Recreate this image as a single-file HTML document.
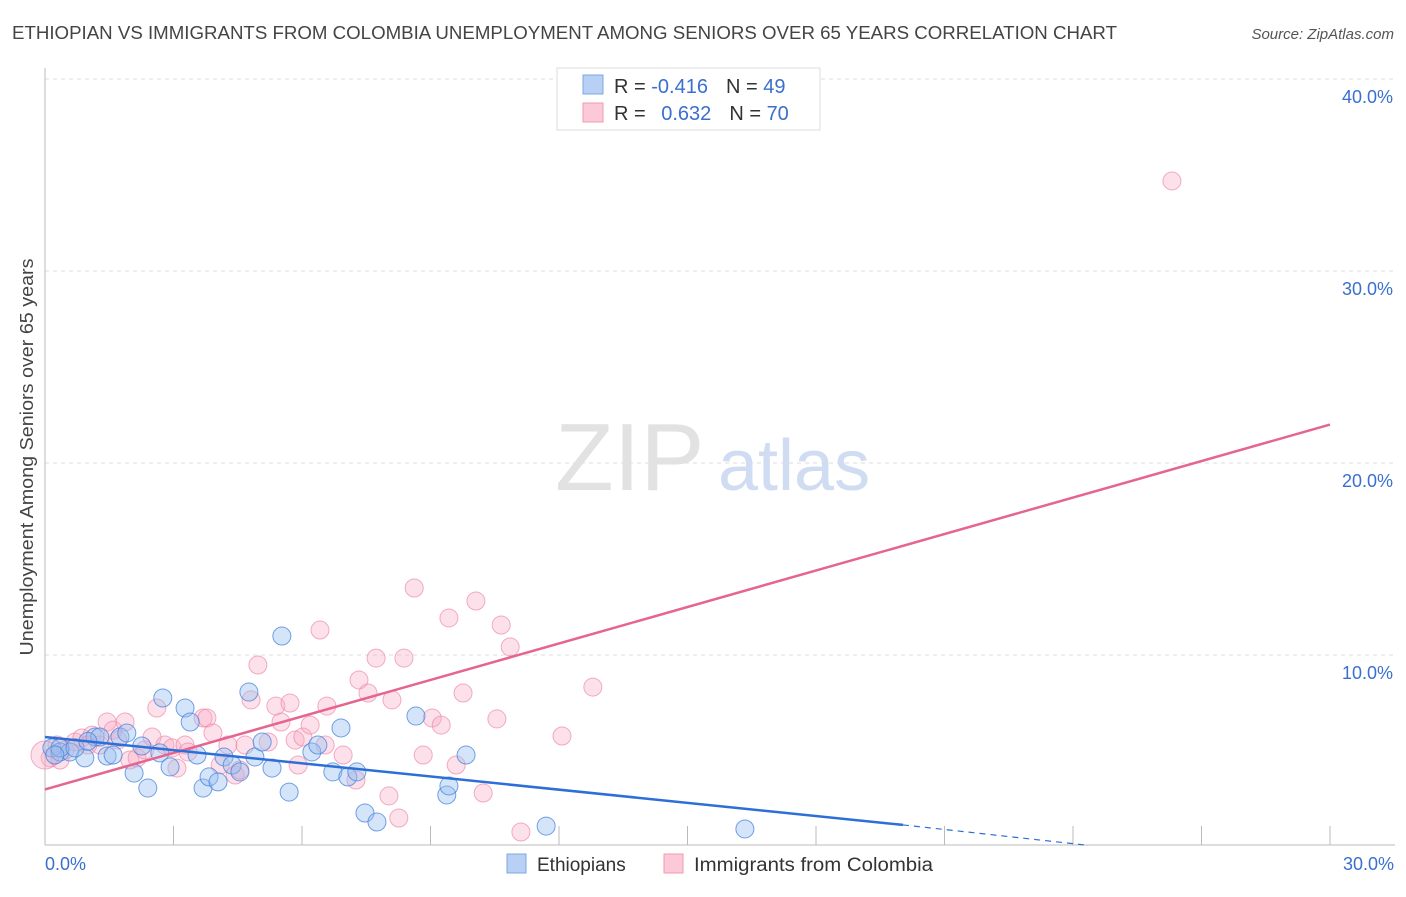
<!DOCTYPE html>
<html><head><meta charset="utf-8"><style>
body{margin:0;background:#fff;font-family:"Liberation Sans",sans-serif}
svg text{font-family:"Liberation Sans",sans-serif}
</style></head><body>
<svg id="chart" width="1406" height="892">
<text x="12" y="39" font-size="18" fill="#444" textLength="1105" lengthAdjust="spacingAndGlyphs">ETHIOPIAN VS IMMIGRANTS FROM COLOMBIA UNEMPLOYMENT AMONG SENIORS OVER 65 YEARS CORRELATION CHART</text>
<text x="1394" y="39" font-size="15" fill="#555" font-style="italic" text-anchor="end">Source: ZipAtlas.com</text>
<g id="grid"></g>
<g><text x="555" y="490" font-size="96" font-family="Liberation Serif" fill="#e2e2e2">ZIP</text><text x="718" y="490" font-size="72" fill="#cfdcf2">atlas</text></g>
<g id="marks"></g>
<text x="0" y="0" transform="translate(33,457) rotate(-90)" font-size="18" fill="#444" text-anchor="middle" textLength="397" lengthAdjust="spacingAndGlyphs">Unemployment Among Seniors over 65 years</text>
<g>
<rect x="557" y="68" width="263" height="62" fill="#fff" stroke="#ddd"/>
<rect x="583" y="75" width="20" height="19" fill="#b8d0f3" stroke="#7ea6e3"/>
<rect x="583" y="103" width="20" height="19" fill="#fbc9d7" stroke="#f09ab3"/>
<text x="614" y="93" font-size="20" fill="#333">R = <tspan fill="#3a6fd0">-0.416</tspan><tspan dx="18">N = </tspan><tspan fill="#3a6fd0">49</tspan></text>
<text x="614" y="120" font-size="20" fill="#333">R = <tspan fill="#3a6fd0" dx="10">0.632</tspan><tspan dx="18">N = </tspan><tspan fill="#3a6fd0">70</tspan></text>
</g>
<g>
<rect x="507" y="854" width="19" height="19" fill="#b8d0f3" stroke="#7ea6e3"/>
<text x="537" y="871" font-size="19" fill="#333">Ethiopians</text>
<rect x="664" y="854" width="19" height="19" fill="#fbc9d7" stroke="#f09ab3"/>
<text x="694" y="871" font-size="19" fill="#333" textLength="239" lengthAdjust="spacingAndGlyphs">Immigrants from Colombia</text>
</g>
</svg>
<script>
const yTicks=[10,20,30,40];
const yTickLabels=["10.0%","20.0%","30.0%","40.0%"];
const xTicks=[0,3,6,9,12,15,18,21,24,27,30];
const blueX=[0.16,0.35,0.58,0.93,1.17,1.28,1.45,1.59,1.75,1.91,2.08,2.26,2.40,2.68,2.75,2.92,3.27,3.39,3.55,3.69,3.83,4.04,4.18,4.37,4.55,4.76,4.90,5.07,5.30,5.53,5.70,6.23,6.37,6.72,6.91,7.07,7.28,7.47,7.75,8.66,9.38,9.43,9.83,11.70,16.34,0.35,0.70,0.23,1.0];
const blueY=[5.16,4.95,4.95,4.64,5.73,5.73,4.74,4.79,5.73,5.94,3.85,5.26,3.07,4.90,7.76,4.17,7.24,6.51,4.79,3.07,3.65,3.39,4.69,4.27,3.91,8.07,4.69,5.47,4.11,10.99,2.86,4.95,5.31,3.91,6.20,3.65,3.91,1.77,1.30,6.82,2.71,3.18,4.79,1.09,0.94,5.16,5.16,4.79,5.5];
const pinkX=[0.12,0.28,0.47,0.70,0.86,1.10,1.28,1.45,1.59,1.70,1.87,1.98,2.15,2.33,2.50,2.61,2.80,2.97,3.08,3.27,3.34,3.69,3.78,3.92,4.09,4.27,4.44,4.55,4.67,4.81,4.97,5.21,5.39,5.51,5.72,5.84,5.91,6.02,6.19,6.42,6.54,6.58,6.96,7.26,7.33,7.54,7.73,8.03,8.10,8.26,8.38,8.62,8.83,9.04,9.25,9.43,9.60,9.76,10.06,10.23,10.55,10.65,10.86,11.11,12.07,12.79,26.31,0.0,0.35,1.00];
const pinkY=[4.64,5.31,5.05,5.47,5.68,5.83,5.31,6.51,6.09,5.57,6.51,4.53,4.64,5.05,5.73,7.24,5.31,5.16,4.11,5.31,4.95,6.72,6.72,5.94,4.27,5.31,3.75,4.01,5.31,7.66,9.48,5.47,7.34,6.51,7.50,5.57,4.27,5.73,6.35,11.30,5.31,7.34,4.79,3.49,8.70,8.02,9.84,2.66,7.66,1.51,9.84,13.49,4.79,6.72,6.35,11.93,4.27,8.02,12.81,2.81,6.67,11.56,10.42,0.78,5.78,8.33,34.69,4.79,4.53,5.31];
const blueTrend=[[0,5.73],[20.03,1.15]], blueDash=[[20.03,1.15],[24.3,0.1]];
const pinkTrend=[[0,3.0],[30,22.0]];
const NS="http://www.w3.org/2000/svg";
const X=v=>45+v/30*1285, Y=v=>847-v*19.2;
function mk(t,a,p){const e=document.createElementNS(NS,t);for(const k in a)e.setAttribute(k,a[k]);p.appendChild(e);return e;}
const grid=document.getElementById('grid'), marks=document.getElementById('marks');
yTicks.forEach((t,i)=>{
 const l=mk('line',{x1:45,x2:1395,y1:Y(t),y2:Y(t),stroke:'#ddd','stroke-dasharray':'4,4'},grid);
 
 
 const tx=mk('text',{x:1393,y:Y(t)+24,'font-size':18,fill:'#3a6fd0','text-anchor':'end'},grid);
 tx.textContent=yTickLabels[i];
 
 
});
const ax=mk('line',{x1:45,x2:45,y1:68,y2:845,stroke:'#bbb'},grid);


const bx=mk('line',{x1:45,x2:1395,y1:845,y2:845,stroke:'#bbb'},grid);


xTicks.forEach(t=>{
 const l=mk('line',{x1:X(t),x2:X(t),y1:826,y2:845,stroke:'#bbb'},grid);
 
 
});
[[0,'0.0%','start',45],[30,'30.0%','end',1394]].forEach(d=>{
 const tx=mk('text',{x:d[3],y:870,'font-size':18,fill:'#3a6fd0','text-anchor':d[2]},grid);
 tx.textContent=d[1];
 
 
});
pinkX.forEach((x,i)=>{
 const c=mk('circle',{cx:X(x),cy:Y(pinkY[i]),r:i==67?14:9,fill:'rgba(248,170,195,0.35)',stroke:'rgba(235,130,165,0.65)','stroke-width':1},marks);
 
 
});
blueX.forEach((x,i)=>{
 const c=mk('circle',{cx:X(x),cy:Y(blueY[i]),r:9,fill:'rgba(150,190,240,0.4)',stroke:'rgba(70,130,220,0.75)','stroke-width':1},marks);
 
 
});
const pl=mk('line',{x1:X(pinkTrend[0][0]),y1:Y(pinkTrend[0][1]),x2:X(pinkTrend[1][0]),y2:Y(pinkTrend[1][1]),stroke:'#e5658f','stroke-width':2.5},marks);


const bl=mk('line',{x1:X(blueTrend[0][0]),y1:Y(blueTrend[0][1]),x2:X(blueTrend[1][0]),y2:Y(blueTrend[1][1]),stroke:'#2d6fd6','stroke-width':2.5},marks);


const bd=mk('line',{x1:X(blueDash[0][0]),y1:Y(blueDash[0][1]),x2:X(blueDash[1][0]),y2:Y(blueDash[1][1]),stroke:'#2d6fd6','stroke-width':1.2,'stroke-dasharray':'6,5'},marks);


</script>
</body></html>
